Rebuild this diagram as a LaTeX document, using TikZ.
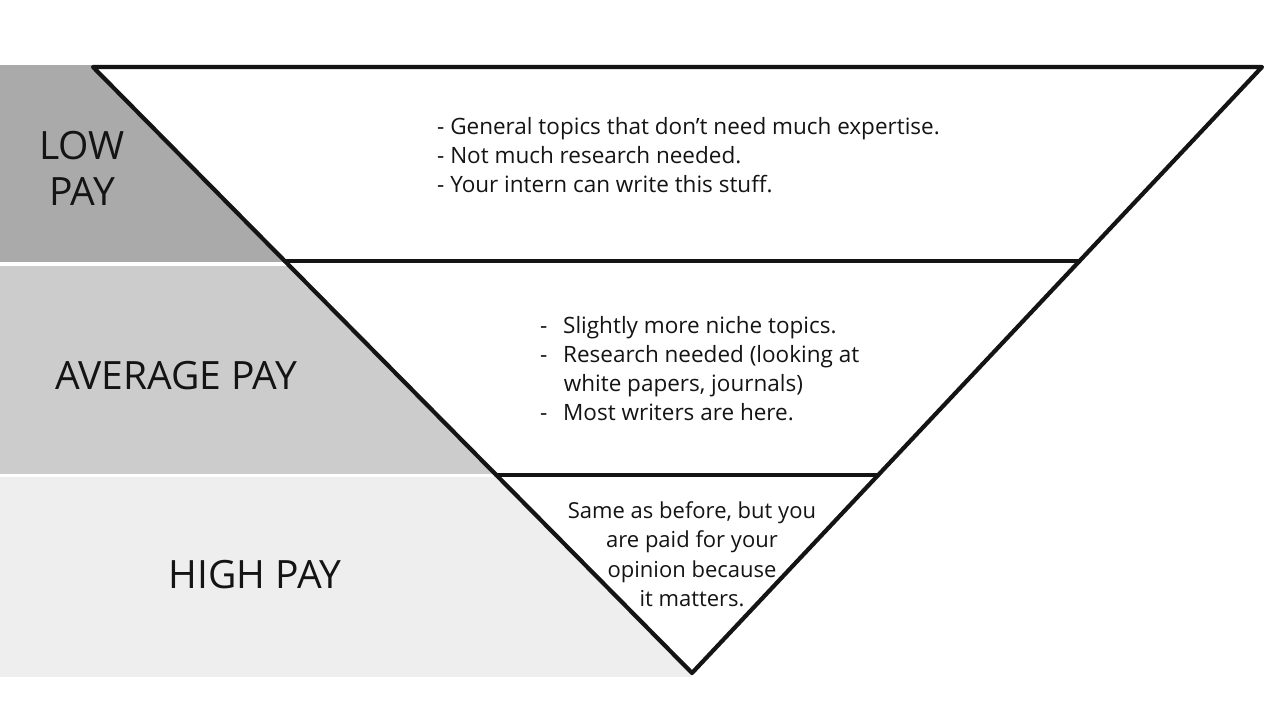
\documentclass[tikz,border=0pt]{standalone}
\usepackage{fontspec}
\setmainfont{Open Sans}
\usetikzlibrary{calc}
\definecolor{darkband}{HTML}{AAAAAA}
\definecolor{midband}{HTML}{CCCCCC}
\definecolor{lightband}{HTML}{EEEEEE}
\definecolor{ink}{HTML}{141414}
\tikzset{
  edge/.style={draw=ink, line width=4.2pt, line join=round, line cap=round},
  biglabel/.style={font=\fontsize{39}{46}\selectfont, align=center, text=ink, inner sep=0pt},
  bodytext/.style={font=\fontsize{22.5}{29}\selectfont, align=left, text=ink, inner sep=0pt},
  centertext/.style={font=\fontsize{22}{29.5}\selectfont, align=center, text=ink, inner sep=0pt}
}
\begin{document}
\begin{tikzpicture}[x=1pt,y=-1pt]
\useasboundingbox (0,0) rectangle (1280,720);
\fill[white] (0,0) rectangle (1280,720);
% gray bands
\fill[darkband] (0,65) rectangle (692,261.5);
\fill[midband] (0,265.5) rectangle (692,473.5);
\fill[lightband] (0,476.5) rectangle (692,677);
% triangle
\coordinate (tl) at (93,67);
\coordinate (tr) at (1262,67);
\coordinate (ap) at (692,673);
\coordinate (l1) at ($(tl)!0.320!(ap)$);
\coordinate (r1) at ($(tr)!0.320!(ap)$);
\coordinate (l2) at ($(tl)!0.673!(ap)$);
\coordinate (r2) at ($(tr)!0.673!(ap)$);
\fill[white] (tl) -- (tr) -- (ap) -- cycle;
\draw[edge] (tl) -- (tr) -- (ap) -- cycle;
\draw[edge] (l1) -- (r1);
\draw[edge] (l2) -- (r2);
% labels
\node[biglabel] (low) at (82,168) {LOW\\PAY};
\node[biglabel] (avg) at (176,376) {AVERAGE PAY};
\node[biglabel] (high) at (255,575) {HIGH PAY};
% texts
\node[bodytext, anchor=north west] (t1) at (437,117) {- General topics that don't need much expertise.\\- Not much research needed.\\- Your intern can write this stuff.};
\node[bodytext, anchor=north west] (t2) at (540,316) {-\hspace{0.7em}Slightly more niche topics.\\-\hspace{0.7em}Research needed (looking at\\\hspace{1.05em}white papers, journals)\\-\hspace{0.7em}Most writers are here.};
\node[centertext, anchor=north] (t3) at (692,501) {Same as before, but you\\are paid for your\\opinion because\\it matters.};
\end{tikzpicture}
\end{document}
